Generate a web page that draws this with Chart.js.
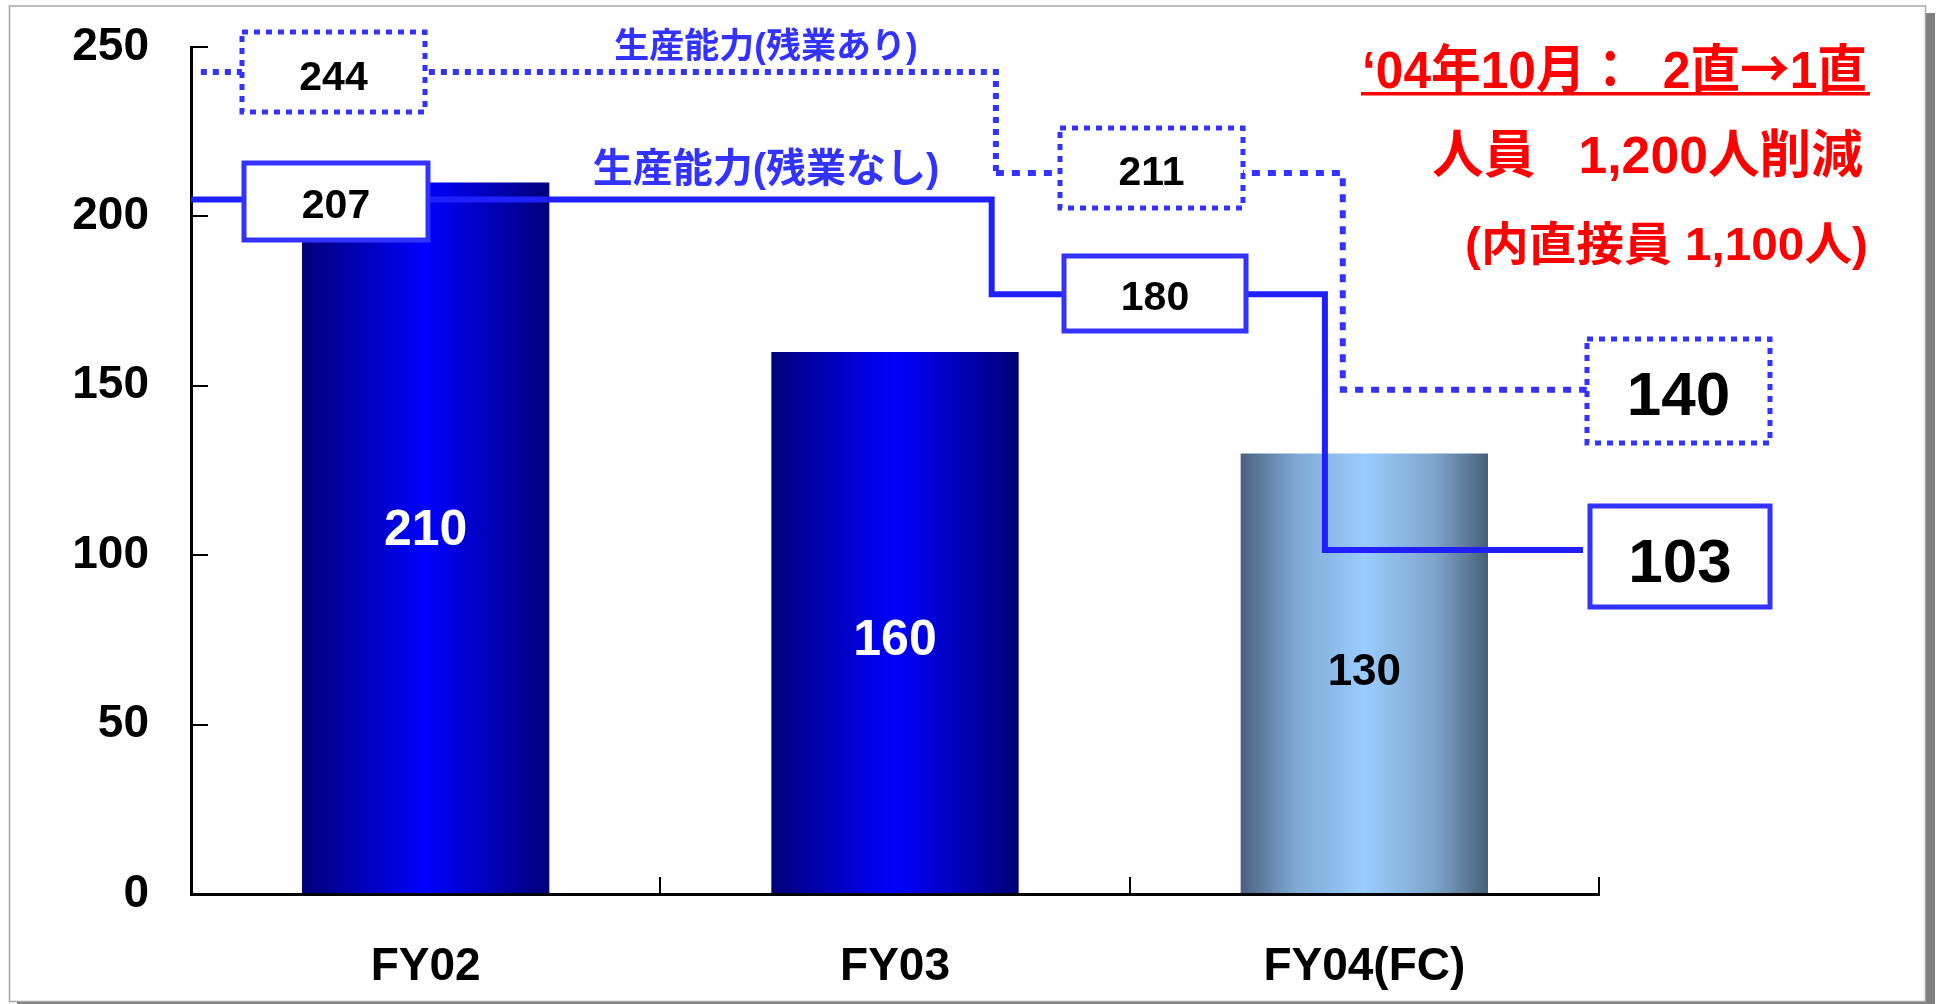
<!DOCTYPE html>
<html><head><meta charset="utf-8">
<script src="https://cdn.jsdelivr.net/npm/chart.js@4/dist/chart.umd.min.js"></script>
<style>html,body{margin:0;padding:0;background:#fff;overflow:hidden}#wrap{width:1936px;height:1004px;position:relative}canvas{display:block}</style>
</head><body><div id="wrap"><canvas id="c" width="1936" height="1004" style="width:1936px;height:1004px"></canvas></div>
<script>
// ---- data ----
const categories = ['FY02', 'FY03', 'FY04(FC)'];
const production = [210, 160, 130];
const yTicks = [0, 50, 100, 150, 200, 250];
const capacityNoOTLabels = [207, 180, 103];
const capacityOTLabels = [244, 211, 140];
const capacityNoOTLevels = [205, 177, 101.5];
const capacityOTLevels = [242.6, 212.8, 148.8];
const noOTStepX = [-0.5, 1.206, 1.916, 2.466];
const otStepX = [-0.479, 1.215, 1.954, 2.474];
const seriesNames = ['生産能力(残業なし)', '生産能力(残業あり)'];
const noteLines = [['‘04年10月：  2直', '→', '1直'], ['人員   1,200人削減'], ['(内直接員 1,100人)']];

const FONT = "'Liberation Sans', Arial, 'Noto Sans CJK JP', sans-serif";
const CJK = "'Noto Sans CJK JP', sans-serif";

function stepPoints(xs, levels) {
  const pts = [];
  for (let i = 0; i < levels.length; i++) {
    pts.push({x: xs[i], y: levels[i]}, {x: xs[i + 1], y: levels[i]});
  }
  return pts;
}

const BAR_PCT = 0.527;
function barGradient(c) {
  const chart = c.chart;
  const xs = chart.scales && chart.scales.x;
  if (!chart.chartArea || !xs || c.dataIndex === undefined) return '#0000ff';
  const i = c.dataIndex;
  const cx = xs.getPixelForValue(i);
  const w = xs.width / categories.length * BAR_PCT;
  const g = chart.ctx.createLinearGradient(cx - w / 2, 0, cx + w / 2, 0);
  if (categories[i].indexOf('FC') >= 0) {
    g.addColorStop(0, '#4a6180');
    g.addColorStop(0.22, '#7ea8d2');
    g.addColorStop(0.5, '#99ccff');
    g.addColorStop(0.78, '#7ea6cc');
    g.addColorStop(1, '#47607a');
  } else {
    g.addColorStop(0, '#000078');
    g.addColorStop(0.5, '#0000ff');
    g.addColorStop(1, '#000078');
  }
  return g;
}

const framePlugin = {
  id: 'frame',
  beforeDraw(chart) {
    const ctx = chart.ctx;
    ctx.save();
    ctx.fillStyle = '#ffffff';
    ctx.fillRect(0, 0, chart.width, chart.height);
    ctx.fillStyle = '#7f7f7f';
    ctx.fillRect(1926, 13, 9, 991);
    ctx.fillRect(17, 1002, 1918, 2);
    ctx.strokeStyle = '#a6a6a6';
    ctx.lineWidth = 1.5;
    ctx.strokeRect(9.5, 6, 1916, 995.5);
    ctx.restore();
  }
};

function box(ctx, x1, y1, x2, y2, dotted, lw) {
  ctx.save();
  ctx.fillStyle = '#ffffff';
  ctx.fillRect(x1, y1, x2 - x1, y2 - y1);
  ctx.strokeStyle = '#3333ff';
  ctx.lineWidth = lw;
  if (dotted) ctx.setLineDash([6, 6]);
  ctx.strokeRect(x1, y1, x2 - x1, y2 - y1);
  ctx.restore();
}
function txt(ctx, s, x, y, size, color, align, maxW) {
  ctx.save();
  ctx.font = 'bold ' + size + 'px ' + FONT;
  ctx.fillStyle = color;
  ctx.textAlign = align || 'center';
  ctx.textBaseline = 'alphabetic';
  if (maxW) ctx.fillText(s, x, y, maxW); else ctx.fillText(s, x, y);
  ctx.restore();
}
// right-aligned multi-font text fitted to a target width
function richRight(ctx, parts, xRight, y, size, color, targetW) {
  ctx.save();
  ctx.fillStyle = color;
  ctx.textBaseline = 'alphabetic';
  ctx.textAlign = 'left';
  const fonts = parts.map(p => 'bold ' + size + 'px ' + (p === '→' ? CJK : FONT));
  let total = 0;
  const ws = parts.map((p, i) => { ctx.font = fonts[i]; const w = ctx.measureText(p).width; total += w; return w; });
  const sx = targetW / total;
  ctx.translate(xRight - targetW, y);
  ctx.scale(sx, 1);
  let x = 0;
  parts.forEach((p, i) => { ctx.font = fonts[i]; ctx.fillText(p, x, 0); x += ws[i]; });
  ctx.restore();
}

const annoPlugin = {
  id: 'anno',
  afterDraw(chart) {
    const ctx = chart.ctx;
    const xs = chart.scales.x;
    // bar value labels
    const barLabelBase = [545, 655, 685];
    const barLabelSize = [50, 50, 44];
    const barLabelColor = ['#ffffff', '#ffffff', '#000000'];
    production.forEach((v, i) => {
      txt(ctx, String(v), xs.getPixelForValue(i), barLabelBase[i], barLabelSize[i], barLabelColor[i]);
    });
    // capacity boxes: with overtime (dotted)
    const otBoxes = [[242, 32, 425, 112, 90, 41], [1060, 128, 1243, 208, 185, 41], [1587, 339, 1770, 443, 415, 62]];
    otBoxes.forEach((b, i) => {
      box(ctx, b[0], b[1], b[2], b[3], true, 5);
      txt(ctx, String(capacityOTLabels[i]), (b[0] + b[2]) / 2, b[4], b[5], '#000000');
    });
    // without overtime (solid)
    const noBoxes = [[244, 163, 428, 240, 218, 41], [1064, 256, 1246, 331, 310, 41], [1590, 506, 1770, 607, 582, 62]];
    noBoxes.forEach((b, i) => {
      box(ctx, b[0], b[1], b[2], b[3], false, 5);
      txt(ctx, String(capacityNoOTLabels[i]), (b[0] + b[2]) / 2, b[4], b[5], '#000000');
    });
    // series names
    txt(ctx, seriesNames[1], 766, 58, 35, '#3333ff', 'center', 310);
    txt(ctx, seriesNames[0], 766, 182, 40, '#3333ff', 'center', 352);
    // red note
    richRight(ctx, noteLines[0], 1867, 88, 52, '#ff0000', 505);
    ctx.save(); ctx.fillStyle = '#ff0000'; ctx.fillRect(1361, 92, 509, 3.5); ctx.restore();
    richRight(ctx, noteLines[1], 1863, 173, 52, '#ff0000', 431);
    richRight(ctx, noteLines[2], 1868, 260, 46, '#ff0000', 403);
  }
};

const chart = new Chart(document.getElementById('c'), {
  type: 'bar',
  data: {
    labels: categories,
    datasets: [
      {
        type: 'bar', data: production, xAxisID: 'x', yAxisID: 'y', order: 3,
        barPercentage: BAR_PCT, categoryPercentage: 1, grouped: false,
        backgroundColor: barGradient, borderWidth: 0
      },
      {
        type: 'line', label: seriesNames[1], data: stepPoints(otStepX, capacityOTLevels),
        xAxisID: 'xl', yAxisID: 'y', order: 2,
        borderColor: '#3333ff', borderWidth: 6, pointRadius: 0, tension: 0, fill: false,
        clip: false, borderCapStyle: 'butt', borderJoinStyle: 'miter',
        borderDash: [6, 6],
        segment: { borderDash: c => c.p0DataIndex < 2 ? [6, 6] : [8, 8] }
      },
      {
        type: 'line', label: seriesNames[0], data: stepPoints(noOTStepX, capacityNoOTLevels),
        xAxisID: 'xl', yAxisID: 'y', order: 1,
        borderColor: '#2020ff', borderWidth: 6, pointRadius: 0, tension: 0, fill: false,
        clip: false, borderCapStyle: 'butt', borderJoinStyle: 'miter'
      }
    ]
  },
  options: {
    responsive: false,
    maintainAspectRatio: false,
    animation: false,
    devicePixelRatio: 1,
    layout: { padding: { top: 47, right: 337, left: 0, bottom: 0 } },
    plugins: { legend: { display: false }, tooltip: { enabled: false } },
    scales: {
      x: {
        type: 'category', offset: true, position: 'bottom',
        grid: { display: true, drawOnChartArea: false, tickLength: -17, color: '#000', lineWidth: 2, offset: true },
        border: { display: true, color: '#000', width: 3 },
        ticks: { color: '#000', font: { family: FONT, weight: 'bold', size: 46 }, padding: 63, maxRotation: 0 },
        afterFit: s => { s.height = 110; s.paddingLeft = 0; s.paddingRight = 0; }
      },
      xl: {
        type: 'linear', min: -0.5, max: 2.5, display: false, offset: false, bounds: 'data',
        grid: { offset: false }
      },
      y: {
        type: 'linear', min: 0, max: 250, position: 'left',
        afterBuildTicks: s => { s.ticks = yTicks.map(v => ({value: v})); },
        grid: { display: true, drawOnChartArea: false, tickLength: -17, color: '#000', lineWidth: 2 },
        border: { display: true, color: '#000', width: 3 },
        ticks: { color: '#000', font: { family: FONT, weight: 'bold', size: 46 }, padding: 59 },
        afterFit: s => { s.width = 191; s.paddingTop = 0; s.paddingBottom = 0; }
      }
    }
  },
  plugins: [framePlugin, annoPlugin]
});
</script>
</body></html>
